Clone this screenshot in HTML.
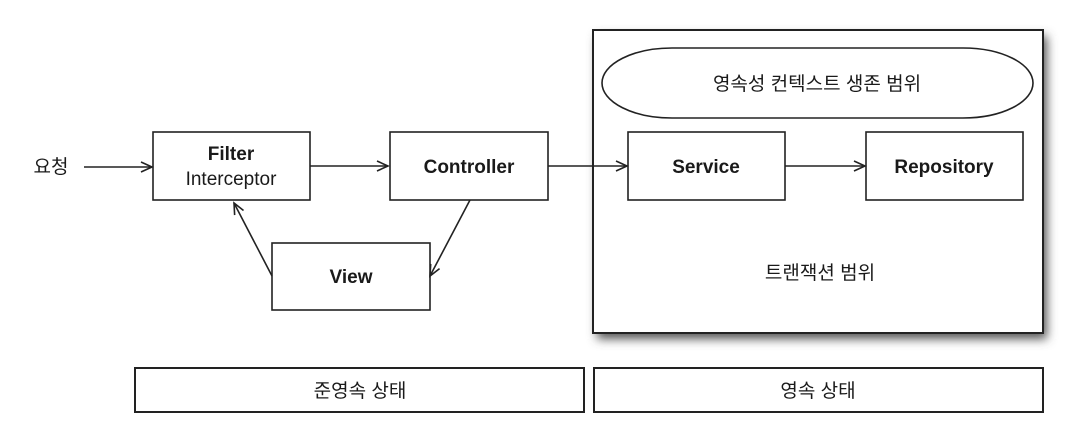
<!DOCTYPE html>
<html><head><meta charset="utf-8"><style>
html,body{margin:0;padding:0;background:#fff;width:1084px;height:436px;overflow:hidden}
text{font-family:"Liberation Sans","Noto Sans CJK KR",sans-serif;fill:#1a1a1a}
</style></head><body>
<svg width="1084" height="436" viewBox="0 0 1084 436" xmlns="http://www.w3.org/2000/svg">
<defs>
<filter id="sh" x="-10%" y="-10%" width="130%" height="130%"><feGaussianBlur stdDeviation="5"/></filter>
<marker id="ar" markerWidth="14" markerHeight="12" refX="12" refY="6" orient="auto" markerUnits="userSpaceOnUse">
<path d="M1,1 L12,6 L1,11" fill="none" stroke="#222" stroke-width="1.6"/></marker>
</defs>
<g stroke="#222" stroke-width="1.6" fill="#fff">
<rect x="597" y="36" width="450" height="303" fill="#555" stroke="none" filter="url(#sh)"/>
<rect x="593" y="30" width="450" height="303" stroke-width="2"/>
<rect x="602" y="48" width="431" height="70" rx="70" ry="35"/>
<rect x="153" y="132" width="157" height="68"/>
<rect x="390" y="132" width="158" height="68"/>
<rect x="272" y="243" width="158" height="67"/>
<rect x="628" y="132" width="157" height="68"/>
<rect x="866" y="132" width="157" height="68"/>
<rect x="135" y="368" width="449" height="44" stroke-width="2"/>
<rect x="594" y="368" width="449" height="44" stroke-width="2"/>
</g>
<g stroke="#222" stroke-width="1.6" fill="none" marker-end="url(#ar)">
<line x1="84" y1="167" x2="152" y2="167"/>
<line x1="310" y1="166" x2="388" y2="166"/>
<line x1="548" y1="166" x2="627" y2="166"/>
<line x1="785" y1="166" x2="865" y2="166"/>
<line x1="470" y1="200" x2="430" y2="276"/>
<line x1="272" y1="276" x2="234" y2="203"/>
</g>
<g font-size="19" text-anchor="middle">
<text x="51" y="173">요청</text>
<text x="231" y="160" font-weight="bold">Filter</text>
<text x="231" y="185">Interceptor</text>
<text x="469" y="173" font-weight="bold">Controller</text>
<text x="351" y="283" font-weight="bold">View</text>
<text x="706" y="173" font-weight="bold">Service</text>
<text x="944" y="173" font-weight="bold">Repository</text>
<text x="817" y="90">영속성 컨텍스트 생존 범위</text>
<text x="820" y="279">트랜잭션 범위</text>
<text x="360" y="397">준영속 상태</text>
<text x="818" y="397">영속 상태</text>
</g>
</svg>
</body></html>
